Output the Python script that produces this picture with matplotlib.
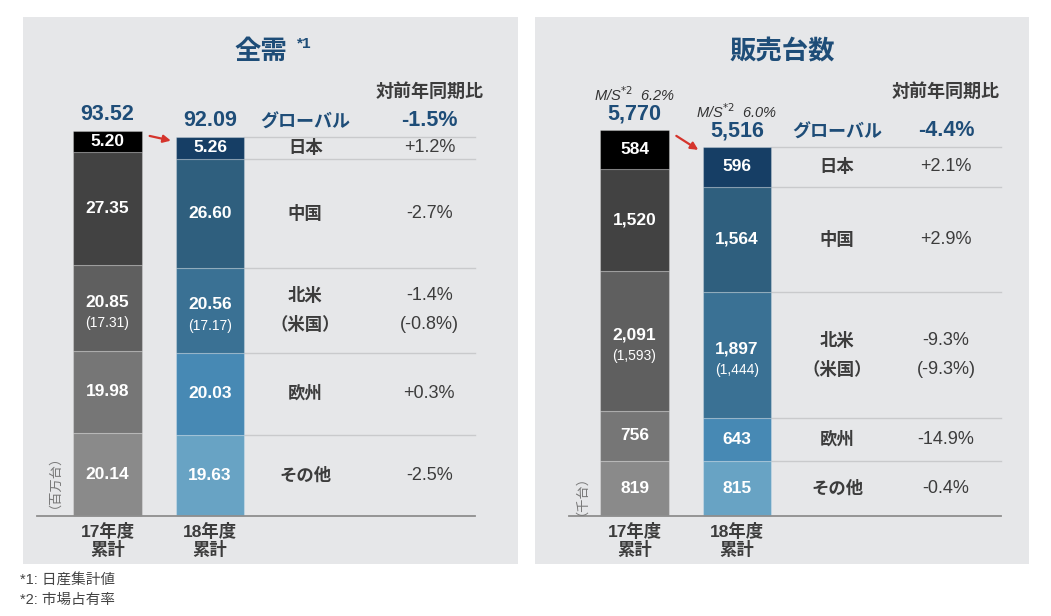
import matplotlib
matplotlib.use('Agg')
import matplotlib.pyplot as plt

plt.rcParams['font.family'] = ['Liberation Sans', 'Noto Sans CJK JP']

# regions listed top of the stack -> bottom
regions = ['日本', '中国', '北米', '欧州', 'その他']
years = ['17年度\n累計', '18年度\n累計']

# 全需 (百万台)
demand_17 = [5.20, 27.35, 20.85, 19.98, 20.14]
demand_18 = [5.26, 26.60, 20.56, 20.03, 19.63]
demand_total = [93.52, 92.09]
demand_us = ['(17.31)', '(17.17)']
demand_labels_17 = ['5.20', '27.35', '20.85', '19.98', '20.14']
demand_labels_18 = ['5.26', '26.60', '20.56', '20.03', '19.63']
demand_yoy = ['+1.2%', '-2.7%', '-1.4%', '+0.3%', '-2.5%']
demand_us_yoy = '(-0.8%)'
demand_global_yoy = '-1.5%'

# 販売台数 (千台)
sales_17 = [584, 1520, 2091, 756, 819]
sales_18 = [596, 1564, 1897, 643, 815]
sales_total = [5770, 5516]
sales_us = ['(1,593)', '(1,444)']
sales_yoy = ['+2.1%', '+2.9%', '-9.3%', '-14.9%', '-0.4%']
sales_us_yoy = '(-9.3%)'
sales_global_yoy = '-4.4%'
market_share = ['6.2%', '6.0%']

grays = ['#000000', '#424242', '#5f5f5f', '#767676', '#8a8a8a']
blues = ['#163e65', '#2f5f7e', '#3a7194', '#4789b4', '#68a3c4']
navy = '#1e4d78'
txt = '#3c3c3c'
bg = '#e6e7e9'

W, H = 1051, 616
fig = plt.figure(figsize=(W / 100, H / 100), dpi=100)
fig.patch.set_facecolor('white')


def make_ax(x0, y0, x1, y1):
    a = fig.add_axes([x0 / W, (H - y1) / H, (x1 - x0) / W, (y1 - y0) / H])
    a.set_facecolor(bg)
    for s in a.spines.values():
        s.set_visible(False)
    a.set_xticks([])
    a.set_yticks([])
    return a


def draw_panel(ax, v17, v18, lab17, lab18, totals, tot_labels, us, yoy, us_yoy,
               glob_yoy, unit, xlim, ylim, label_x, pct_x, line_end, base_start):
    ax.set_xlim(*xlim)
    ax.set_ylim(*ylim)
    w = 0.67
    for i, (vals, labs, cols) in enumerate([(v17, lab17, grays), (v18, lab18, blues)]):
        bottom = 0
        mids = {}
        # stack from the bottom (その他) up to 日本
        for k in range(len(vals) - 1, -1, -1):
            ax.bar(i, vals[k], w, bottom=bottom, color=cols[k],
                   edgecolor=(1, 1, 1, 0.25), linewidth=0.8, zorder=2)
            mids[k] = bottom + vals[k] / 2
            bottom += vals[k]
        for k in range(len(vals)):
            if k == 2:
                ax.annotate(labs[k], (i, mids[k]), xytext=(0, 4), textcoords='offset points',
                            ha='center', va='center', color='white', fontsize=12.5,
                            fontweight='bold', zorder=3)
                ax.annotate(us[i], (i, mids[k]), xytext=(0, -11), textcoords='offset points',
                            ha='center', va='center', color='white', fontsize=10, zorder=3)
            else:
                ax.annotate(labs[k], (i, mids[k]), ha='center', va='center', color='white',
                            fontsize=12.5, fontweight='bold', zorder=3)
        ax.annotate(tot_labels[i], (i, totals[i]), xytext=(0, 4), textcoords='offset points',
                    ha='center', va='bottom', color=navy, fontsize=15.5, fontweight='bold')

    # table to the right of the 18 bar
    bounds = [0]
    for v in v18[::-1]:
        bounds.append(bounds[-1] + v)
    for b in bounds[1:]:
        ax.plot([1 + w / 2, line_end], [b, b], color='#c9cacc', lw=1, zorder=1)
    ax.plot([base_start, line_end], [0, 0], color='#8e8e8e', lw=1.3, zorder=3)

    bottom = 0
    for k in range(len(v18) - 1, -1, -1):
        m = bottom + v18[k] / 2
        bottom += v18[k]
        if k == 2:
            for dy, lab, pct in [(10.5, regions[k], yoy[k]), (-10.5, '（米国）', us_yoy)]:
                ax.annotate(lab, (label_x, m), xytext=(0, dy), textcoords='offset points',
                            ha='center', va='center', color=txt, fontsize=12.5, fontweight='bold')
                ax.annotate(pct, (pct_x, m), xytext=(0, dy), textcoords='offset points',
                            ha='center', va='center', color=txt, fontsize=13)
        else:
            ax.annotate(regions[k], (label_x, m), ha='center', va='center', color=txt,
                        fontsize=12.5, fontweight='bold')
            ax.annotate(yoy[k], (pct_x, m), ha='center', va='center', color=txt, fontsize=13)

    gy = totals[1]
    ax.annotate('グローバル', (label_x, gy), xytext=(0, 4), textcoords='offset points',
                ha='center', va='bottom', color=navy, fontsize=13, fontweight='bold')
    ax.annotate(glob_yoy, (pct_x, gy), xytext=(0, 4), textcoords='offset points',
                ha='center', va='bottom', color=navy, fontsize=15.5, fontweight='bold')
    ax.annotate('対前年同期比', (pct_x, 0.862), xycoords=('data', 'axes fraction'),
                ha='center', va='center', color=txt, fontsize=13, fontweight='bold')

    # arrow from last year's bar top to this year's
    ax.annotate('', xy=(1 - w / 2 - 0.02, totals[1] - (ylim[1] - ylim[0]) * 0.008),
                xytext=(w / 2 + 0.05, totals[0] - (ylim[1] - ylim[0]) * 0.008),
                arrowprops=dict(arrowstyle='-|>', color='#d5342c', lw=1.6, mutation_scale=11))

    for i, yl in enumerate(years):
        ax.annotate(yl, (i, 0), xytext=(0, -5), textcoords='offset points', ha='center',
                    va='top', color=txt, fontsize=12.5, fontweight='bold', linespacing=1.05)

    ax.annotate(unit, (-0.58, v17[-1] / 2), ha='center', va='center', rotation=90,
                color='#777777', fontsize=9.5)


ax1 = make_ax(23, 17, 518, 564)
ax2 = make_ax(535, 17, 1029, 564)

draw_panel(ax1, demand_17, demand_18, demand_labels_17, demand_labels_18, demand_total,
           ['93.52', '92.09'], demand_us, demand_yoy, demand_us_yoy, demand_global_yoy,
           '（百万台）', (-0.824, 4.005), (-11.66, 121.2), 1.93, 3.14, 3.585, -0.69)

sales_labels_17 = [f'{v:,}' for v in sales_17]
sales_labels_18 = [f'{v:,}' for v in sales_18]
draw_panel(ax2, sales_17, sales_18, sales_labels_17, sales_labels_18, sales_total,
           [f'{v:,}' for v in sales_total], sales_us, sales_yoy, sales_us_yoy, sales_global_yoy,
           '（千台）', (-0.971, 3.849), (-717.5, 7459), 1.976, 3.04, 3.575, -0.64)

# market share above the sales totals
for i in range(2):
    ax2.annotate('M/S$^{*2}$  ' + market_share[i], (i, sales_total[i]), xytext=(0, 19),
                 textcoords='offset points', ha='center', va='bottom', color='#333333',
                 fontsize=10.5, fontstyle='italic')

# titles
ax1.text(0.48, 0.936, '全需', transform=ax1.transAxes, ha='center', va='center',
         color=navy, fontsize=19, fontweight='bold')
ax1.text(0.553, 0.95, '*1', transform=ax1.transAxes, ha='left', va='center',
         color=navy, fontsize=11, fontweight='bold')
ax2.text(0.5, 0.936, '販売台数', transform=ax2.transAxes, ha='center', va='center',
         color=navy, fontsize=19, fontweight='bold')

fig.text(20 / W, 1 - 580 / H, '*1: 日産集計値', ha='left', va='center', color='#444444',
         fontsize=10.5)
fig.text(20 / W, 1 - 600 / H, '*2: 市場占有率', ha='left', va='center', color='#444444',
         fontsize=10.5)

fig.savefig('out.png', dpi=100, facecolor='white')
